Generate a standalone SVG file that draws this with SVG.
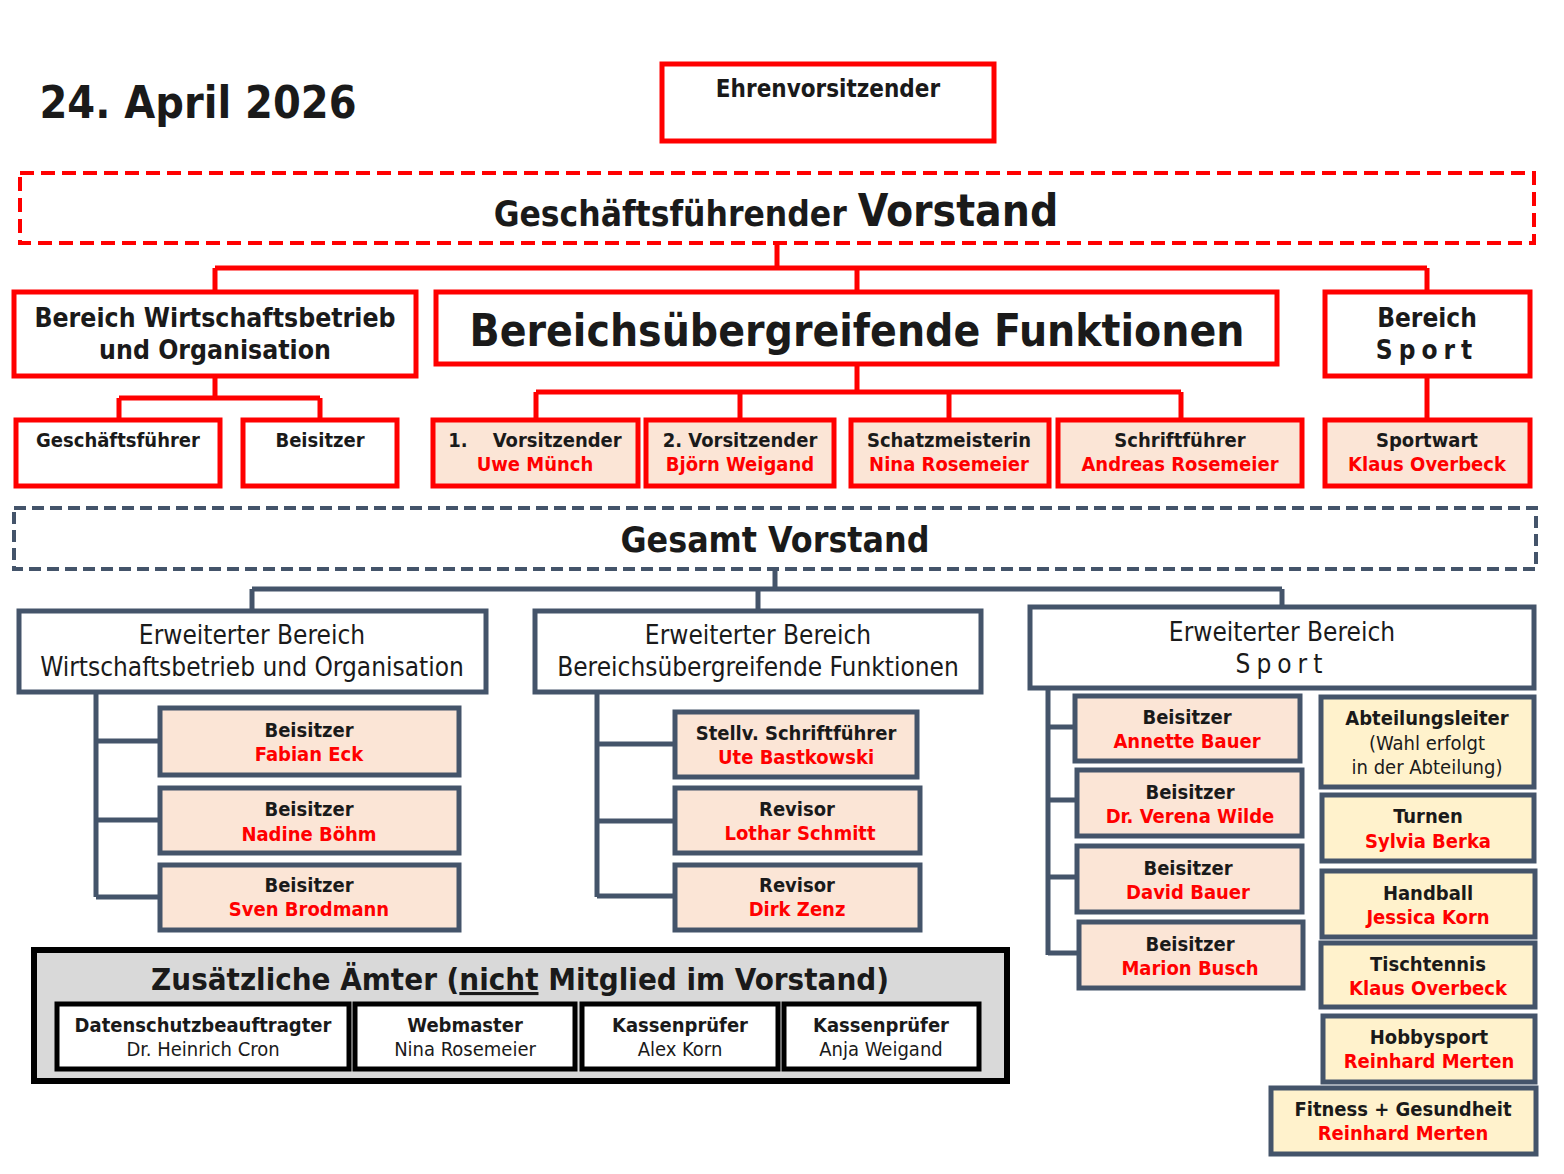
<svg xmlns="http://www.w3.org/2000/svg" width="1564" height="1174" viewBox="0 0 1564 1174">
<style>
text{font-family:"DejaVu Sans Condensed","DejaVu Sans",Tahoma,sans-serif;text-anchor:middle;fill:#1a1a1a}
.b{font-weight:bold}
.r{fill:#ff0000;font-weight:bold}
.t20{font-size:20px}
.rb{fill:#fff;stroke:#ff0000;stroke-width:5}
.rp{fill:#fbe5d6;stroke:#ff0000;stroke-width:5}
.sw{fill:#fff;stroke:#44546a;stroke-width:5}
.sp{fill:#fbe5d6;stroke:#44546a;stroke-width:5}
.sy{fill:#fff2cc;stroke:#44546a;stroke-width:5}
.kw{fill:#fff;stroke:#000;stroke-width:5}
.cr{fill:none;stroke:#ff0000;stroke-width:5}
.cs{fill:none;stroke:#44546a;stroke-width:5}
</style>
<rect width="1564" height="1174" fill="#fff"/>
<text x="198" y="118" class="b" style="font-size:44.5px;">24. April 2026</text>

<g id="connectors">
<path class="cr" d="M777 243V268M215 268H1427M215 268V292M857 268V292M1427 268V292"/>
<path class="cr" d="M215 376V398M119 398H320M119 398V420M320 398V420"/>
<path class="cr" d="M857 364V392M536 392H1181M536 392V420M740 392V420M949 392V420M1181 392V420"/>
<path class="cr" d="M1427 376V420"/>
<path class="cs" d="M775 569V589M252 589H1282M252 589V611M758 589V611M1282 589V607"/>
<path class="cs" d="M96 692V897M96 741H160M96 820H160M96 897H160"/>
<path class="cs" d="M597 692V897M597 744H675M597 821H675M597 896H675"/>
<path class="cs" d="M1048 688V955M1048 727H1075M1048 800H1077M1048 877H1077M1048 953H1079"/>
</g>

<g id="ehrenvorsitzender">
<rect class="rb" x="662" y="64" width="332" height="77"/>
<text x="828" y="97" class="b" style="font-size:24px">Ehrenvorsitzender</text>
</g>

<g id="gf-vorstand">
<rect x="20" y="173" width="1514" height="70" fill="#fff" stroke="#ff0000" stroke-width="4" stroke-dasharray="14 7"/>
<text x="776" y="226" class="b"><tspan style="font-size:35px">Geschäftsführender </tspan><tspan style="font-size:44px">Vorstand</tspan></text>
</g>

<g id="bereich-wirtschaft">
<rect class="rb" x="14" y="292" width="402" height="84"/>
<text x="215" y="327" class="b" style="font-size:26.4px">Bereich Wirtschaftsbetrieb</text>
<text x="215" y="359" class="b" style="font-size:26.4px">und Organisation</text>
</g>

<g id="bereich-funktionen">
<rect class="rb" x="436" y="292" width="841" height="72"/>
<text x="857" y="346" class="b" style="font-size:44px">Bereichsübergreifende Funktionen</text>
</g>

<g id="bereich-sport">
<rect class="rb" x="1325" y="292" width="205" height="84"/>
<text x="1427" y="327" class="b" style="font-size:26px">Bereich</text>
<text x="1427" y="359" class="b" style="font-size:26px;letter-spacing:6px">Sport</text>
</g>

<g id="geschaeftsfuehrer">
<rect class="rb" x="16" y="420" width="204" height="66"/>
<text x="118" y="447" class="b t20">Geschäftsführer</text>
</g>
<g id="beisitzer-top">
<rect class="rb" x="243" y="420" width="154" height="66"/>
<text x="320" y="447" class="b t20">Beisitzer</text>
</g>

<g id="vorsitzender1">
<rect class="rp" x="433" y="420" width="205" height="66"/>
<text x="535" y="447" class="b t20" xml:space="preserve">1.    Vorsitzender</text>
<text x="535" y="471" class="r t20">Uwe Münch</text>
</g>
<g id="vorsitzender2">
<rect class="rp" x="646" y="420" width="188" height="66"/>
<text x="740" y="447" class="b t20">2. Vorsitzender</text>
<text x="740" y="471" class="r t20">Björn Weigand</text>
</g>
<g id="schatzmeisterin">
<rect class="rp" x="851" y="420" width="198" height="66"/>
<text x="949" y="447" class="b t20">Schatzmeisterin</text>
<text x="949" y="471" class="r t20">Nina Rosemeier</text>
</g>
<g id="schriftfuehrer">
<rect class="rp" x="1058" y="420" width="244" height="66"/>
<text x="1180" y="447" class="b t20">Schriftführer</text>
<text x="1180" y="471" class="r t20">Andreas Rosemeier</text>
</g>
<g id="sportwart">
<rect class="rp" x="1325" y="420" width="205" height="66"/>
<text x="1427" y="447" class="b t20">Sportwart</text>
<text x="1427" y="471" class="r t20">Klaus Overbeck</text>
</g>

<g id="gesamt-vorstand">
<rect x="14" y="508" width="1522" height="61" fill="#fff" stroke="#44546a" stroke-width="4" stroke-dasharray="12 6"/>
<text x="775" y="552" class="b" style="font-size:35.4px">Gesamt Vorstand</text>
</g>

<g id="erw-wirtschaft">
<rect class="sw" x="19" y="611" width="467" height="81"/>
<text x="252" y="644" style="font-size:26px">Erweiterter Bereich</text>
<text x="252" y="676" style="font-size:26px">Wirtschaftsbetrieb und Organisation</text>
</g>
<g id="erw-funktionen">
<rect class="sw" x="535" y="611" width="446" height="81"/>
<text x="758" y="644" style="font-size:26px">Erweiterter Bereich</text>
<text x="758" y="676" style="font-size:26px">Bereichsübergreifende Funktionen</text>
</g>
<g id="erw-sport">
<rect class="sw" x="1030" y="607" width="504" height="81"/>
<text x="1282" y="641" style="font-size:26px">Erweiterter Bereich</text>
<text x="1282" y="673" style="font-size:26px;letter-spacing:6px">Sport</text>
</g>

<g id="beisitzer-eck">
<rect class="sp" x="160" y="708" width="299" height="67"/>
<text x="309" y="737" class="b t20">Beisitzer</text>
<text x="309" y="761" class="r t20">Fabian Eck</text>
</g>
<g id="beisitzer-boehm">
<rect class="sp" x="160" y="788" width="299" height="65"/>
<text x="309" y="816" class="b t20">Beisitzer</text>
<text x="309" y="841" class="r t20">Nadine Böhm</text>
</g>
<g id="beisitzer-brodmann">
<rect class="sp" x="160" y="865" width="299" height="65"/>
<text x="309" y="892" class="b t20">Beisitzer</text>
<text x="309" y="916" class="r t20">Sven Brodmann</text>
</g>

<g id="stellv-schriftfuehrer">
<rect class="sp" x="675" y="712" width="242" height="65"/>
<text x="796" y="740" class="b t20">Stellv. Schriftführer</text>
<text x="796" y="764" class="r t20">Ute Bastkowski</text>
</g>
<g id="revisor-schmitt">
<rect class="sp" x="675" y="788" width="245" height="65"/>
<text x="797" y="816" class="b t20">Revisor</text>
<text x="800" y="840" class="r t20">Lothar Schmitt</text>
</g>
<g id="revisor-zenz">
<rect class="sp" x="675" y="865" width="245" height="65"/>
<text x="797" y="892" class="b t20">Revisor</text>
<text x="797" y="916" class="r t20">Dirk Zenz</text>
</g>

<g id="beisitzer-abauer">
<rect class="sp" x="1075" y="696" width="225" height="65"/>
<text x="1187" y="724" class="b t20">Beisitzer</text>
<text x="1187" y="748" class="r t20">Annette Bauer</text>
</g>
<g id="beisitzer-wilde">
<rect class="sp" x="1077" y="770" width="225" height="66"/>
<text x="1190" y="799" class="b t20">Beisitzer</text>
<text x="1190" y="823" class="r t20">Dr. Verena Wilde</text>
</g>
<g id="beisitzer-dbauer">
<rect class="sp" x="1077" y="846" width="225" height="66"/>
<text x="1188" y="875" class="b t20">Beisitzer</text>
<text x="1188" y="899" class="r t20">David Bauer</text>
</g>
<g id="beisitzer-busch">
<rect class="sp" x="1079" y="922" width="224" height="66"/>
<text x="1190" y="951" class="b t20">Beisitzer</text>
<text x="1190" y="975" class="r t20">Marion Busch</text>
</g>

<g id="abteilungsleiter">
<rect class="sy" x="1321" y="697" width="213" height="90"/>
<text x="1427" y="725" class="b t20">Abteilungsleiter</text>
<text x="1427" y="750" class="t20">(Wahl erfolgt</text>
<text x="1427" y="774" class="t20">in der Abteilung)</text>
</g>
<g id="turnen">
<rect class="sy" x="1322" y="795" width="212" height="66"/>
<text x="1428" y="823" class="b t20">Turnen</text>
<text x="1428" y="848" class="r t20">Sylvia Berka</text>
</g>
<g id="handball">
<rect class="sy" x="1322" y="871" width="213" height="66"/>
<text x="1428" y="900" class="b t20">Handball</text>
<text x="1428" y="924" class="r t20">Jessica Korn</text>
</g>
<g id="tischtennis">
<rect class="sy" x="1321" y="943" width="214" height="64"/>
<text x="1428" y="971" class="b t20">Tischtennis</text>
<text x="1428" y="995" class="r t20">Klaus Overbeck</text>
</g>
<g id="hobbysport">
<rect class="sy" x="1323" y="1016" width="212" height="66"/>
<text x="1429" y="1044" class="b t20">Hobbysport</text>
<text x="1429" y="1068" class="r t20">Reinhard Merten</text>
</g>
<g id="fitness">
<rect class="sy" x="1271" y="1088" width="265" height="66"/>
<text x="1403" y="1116" class="b t20">Fitness + Gesundheit</text>
<text x="1403" y="1140" class="r t20">Reinhard Merten</text>
</g>

<g id="zusaetzliche-aemter">
<rect x="34" y="950" width="973" height="131" fill="#d9d9d9" stroke="#000" stroke-width="6"/>
<text x="520" y="990" class="b" style="font-size:31px">Zusätzliche Ämter (<tspan text-decoration="underline">nicht</tspan> Mitglied im Vorstand)</text>
</g>
<g id="datenschutz">
<rect class="kw" x="57" y="1004" width="292" height="65"/>
<text x="203" y="1032" class="b t20">Datenschutzbeauftragter</text>
<text x="203" y="1056" class="t20">Dr. Heinrich Cron</text>
</g>
<g id="webmaster">
<rect class="kw" x="355" y="1004" width="220" height="65"/>
<text x="465" y="1032" class="b t20">Webmaster</text>
<text x="465" y="1056" class="t20">Nina Rosemeier</text>
</g>
<g id="kassenpruefer-korn">
<rect class="kw" x="582" y="1004" width="196" height="65"/>
<text x="680" y="1032" class="b t20">Kassenprüfer</text>
<text x="680" y="1056" class="t20">Alex Korn</text>
</g>
<g id="kassenpruefer-weigand">
<rect class="kw" x="784" y="1004" width="195" height="65"/>
<text x="881" y="1032" class="b t20">Kassenprüfer</text>
<text x="881" y="1056" class="t20">Anja Weigand</text>
</g>
</svg>
